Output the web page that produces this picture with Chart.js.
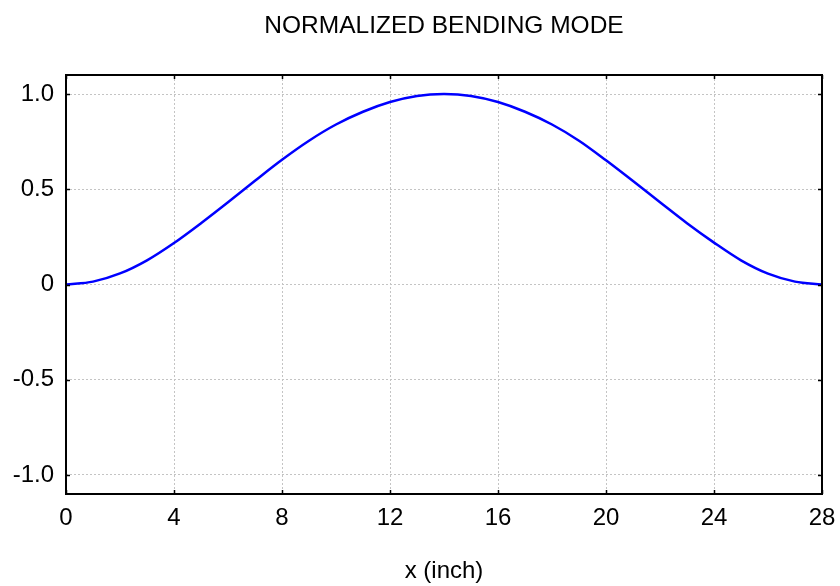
<!DOCTYPE html>
<html>
<head>
<meta charset="utf-8">
<script src="https://cdn.jsdelivr.net/npm/chart.js@4"></script>
<style>
  html, body { margin: 0; padding: 0; background: #fff; }
  #wrap { width: 840px; height: 586px; }
</style>
</head>
<body>
<div id="wrap"><canvas id="mode"></canvas></div>
<script>
// Normalized bending mode
const POSITIONS = [0, 1, 2, 3, 4, 5, 6, 7, 8, 9, 10, 11, 12, 13, 14,
  15, 16, 17, 18, 19, 20, 21, 22, 23, 24, 25, 26, 27, 28];
const DEFLECTION = [0, 0.015, 0.058, 0.127, 0.218, 0.322, 0.432, 0.545, 0.655, 0.755, 0.84, 0.907, 0.958, 0.99, 1.0,
  0.99, 0.958, 0.907, 0.84, 0.755, 0.652, 0.543, 0.432, 0.322, 0.22, 0.127, 0.057, 0.015, 0];
const X_TICKS = [0, 4, 8, 12, 16, 20, 24, 28];
const Y_TICKS = [-1.0, -0.5, 0, 0.5, 1.0];
const Y_TICK_LABELS = ["-1.0", "-0.5", "0", "0.5", "1.0"];

const FONT = "'Liberation Sans', Arial, sans-serif";

// frame round the plot with small inward ticks on all four sides
const framePlugin = {
  id: "frame",
  afterDatasetsDraw(chart) {
    const { ctx, chartArea: a, scales } = chart;
    ctx.save();
    ctx.strokeStyle = "#000";
    ctx.lineWidth = 1.5;
    ctx.beginPath();
    X_TICKS.forEach(v => {
      const px = Math.round(scales.x.getPixelForValue(v)) + 0.5;
      ctx.moveTo(px, a.bottom); ctx.lineTo(px, a.bottom - 4);
      ctx.moveTo(px, a.top); ctx.lineTo(px, a.top + 4);
    });
    Y_TICKS.forEach(v => {
      const py = Math.round(scales.y.getPixelForValue(v)) + 0.5;
      ctx.moveTo(a.left, py); ctx.lineTo(a.left + 4, py);
      ctx.moveTo(a.right, py); ctx.lineTo(a.right - 4, py);
    });
    ctx.stroke();
    ctx.lineWidth = 2;
    ctx.strokeRect(a.left, a.top, a.right - a.left, a.bottom - a.top);
    ctx.restore();
  }
};

const points = POSITIONS.map((x, i) => ({ x, y: DEFLECTION[i] }));

new Chart(document.getElementById("mode"), {
  type: "line",
  data: {
    datasets: [{
      data: points,
      borderColor: "#0000ff",
      borderWidth: 2.5,
      pointRadius: 0,
      fill: false,
      cubicInterpolationMode: "monotone"
    }]
  },
  options: {
    responsive: true,
    maintainAspectRatio: false,
    animation: false,
    layout: { padding: { left: 0, right: 18, top: 0, bottom: 0 } },
    plugins: {
      legend: { display: false },
      tooltip: { enabled: false },
      title: {
        display: true,
        fullSize: false,
        text: "NORMALIZED BENDING MODE",
        color: "#000",
        font: { family: FONT, size: 24.5, weight: "normal" },
        padding: { top: 12, bottom: 33.6 }
      }
    },
    scales: {
      x: {
        type: "linear",
        min: 0, max: 28,
        afterBuildTicks: s => { s.ticks = X_TICKS.map(v => ({ value: v })); },
        afterFit: s => { s.height = 92; s.paddingLeft = 0; s.paddingRight = 0; },
        border: { display: false, dash: [2, 2] },
        grid: { color: "#c4c4c4", lineWidth: 1, drawTicks: false },
        ticks: {
          color: "#000", padding: 10, maxRotation: 0,
          font: { family: FONT, size: 24 }
        },
        title: {
          display: true, text: "x (inch)", color: "#000",
          font: { family: FONT, size: 24 },
          padding: { top: 0, bottom: 0 }
        }
      },
      y: {
        type: "linear",
        min: -1.1, max: 1.1,
        afterBuildTicks: s => { s.ticks = Y_TICKS.map(v => ({ value: v })); },
        afterFit: s => { s.width = 66; s.paddingTop = 0; s.paddingBottom = 0; },
        border: { display: false, dash: [2, 2] },
        grid: { color: "#c4c4c4", lineWidth: 1, drawTicks: false },
        ticks: {
          color: "#000", padding: 12,
          font: { family: FONT, size: 24 },
          callback: (v) => {
            const i = Y_TICKS.indexOf(v);
            return i >= 0 ? Y_TICK_LABELS[i] : "";
          }
        }
      }
    }
  },
  plugins: [framePlugin]
});
</script>
</body>
</html>
